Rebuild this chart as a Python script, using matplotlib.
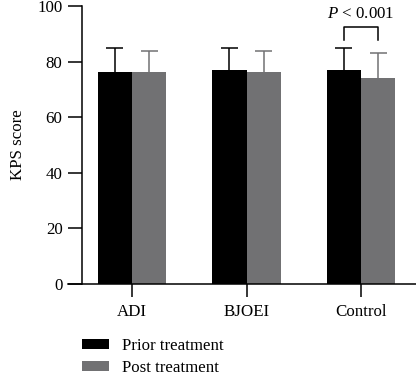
import matplotlib
matplotlib.use("Agg")
import matplotlib.pyplot as plt
import numpy as np

categories = ["ADI", "BJOEI", "Control"]
prior_vals = [76.3, 77.0, 77.0]
prior_err = [8.6, 7.9, 7.9]
post_vals = [76.3, 76.2, 74.2]
post_err = [7.4, 7.5, 8.8]
series_labels = ["Prior treatment", "Post treatment"]
yticks = [0, 20, 40, 60, 80, 100]
sig_text = "P < 0.001"

plt.rcParams['font.family'] = ['Liberation Serif', 'DejaVu Serif']
plt.rcParams['mathtext.fontset'] = 'custom'
plt.rcParams['mathtext.rm'] = 'Liberation Serif'
plt.rcParams['mathtext.it'] = 'Liberation Serif:italic'

W, H = 416, 373
fig = plt.figure(figsize=(W/100, H/100), dpi=100)
ax = fig.add_axes([82/W, 1-284/H, 1-82/W, (284-6)/H])

fs = 12.2
x = np.arange(len(categories))
bw = 0.30
black = "#000000"
gray = "#717173"
ax.bar(x - bw/2, prior_vals, bw, color=black, label=series_labels[0], zorder=2)
ax.bar(x + bw/2, post_vals, bw, color=gray, label=series_labels[1], zorder=2)

cap = 0.075
for xs, vals, errs, col in [(x - bw/2, prior_vals, prior_err, black),
                            (x + bw/2, post_vals, post_err, gray)]:
    tops = np.array(vals) + np.array(errs)
    ax.vlines(xs, vals, tops, colors=col, lw=1.1, zorder=1)
    ax.hlines(tops, xs - cap, xs + cap, colors=col, lw=1.1, zorder=1)

ax.set_xlim(-0.437, 2.48)
ax.set_ylim(0, 100)
ax.set_yticks(yticks)
ax.set_xticks(x)
ax.set_xticklabels(categories, fontsize=fs)
ax.tick_params(axis='y', labelsize=fs, length=10, width=1.1, pad=4)
ax.tick_params(axis='x', length=9.5, width=1.1, pad=5)
ax.set_ylabel("KPS score", fontsize=fs, labelpad=8)
for s in ['top', 'right']:
    ax.spines[s].set_visible(False)
for s in ['left', 'bottom']:
    ax.spines[s].set_linewidth(1.1)
ax.spines['bottom'].set_bounds(-0.56, 2.48)

# significance bracket
x1, x2 = 2 - bw/2, 2 + bw/2
ax.plot([x1, x1, x2, x2], [87.8, 92.4, 92.4, 87.8], color=black, lw=1.1, clip_on=False)
ax.text(2.0, 97.2, r"$P$ < 0.001", ha='center', va='center', fontsize=fs)

leg = fig.legend(loc='upper left', bbox_to_anchor=(82/W, 1-338/H), frameon=False,
                 fontsize=fs, handlelength=1.6, handleheight=0.6, labelspacing=0.35,
                 handletextpad=0.75, borderpad=0, borderaxespad=0)

fig.savefig("out.png", dpi=100)
